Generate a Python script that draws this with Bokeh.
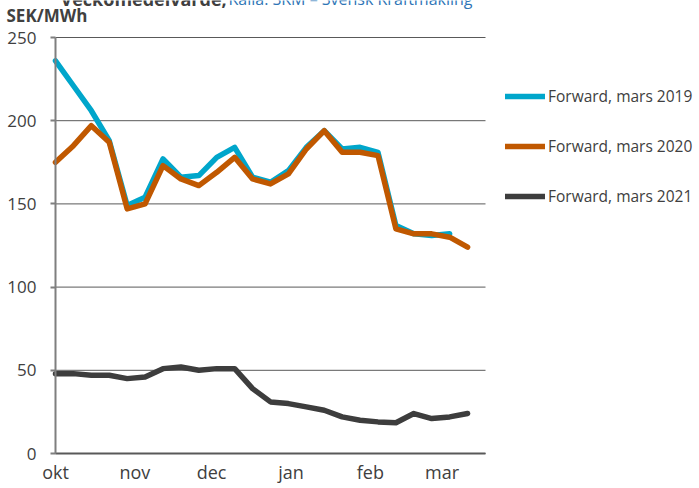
from bokeh.plotting import figure
from bokeh.models import Range1d, FixedTicker, Legend, LegendItem, Label
from bokeh.embed import file_html
from bokeh.resources import INLINE

# weekly observations, days after 1 October
week_day = [0, 7, 14, 21, 28, 35, 42, 49, 56, 63, 70, 77, 84, 91, 98, 105,
            112, 119, 126, 133, 140, 147, 154, 161]
month_day = [0, 31, 61, 92, 123, 151]
month_label = ["okt", "nov", "dec", "jan", "feb", "mar"]
y_ticks = [0, 50, 100, 150, 200, 250]

fwd_2019 = [236, 221, 206, 188, 149, 154, 177, 166, 167, 178, 184, 166, 163,
            170, 184, 194, 183, 184, 181, 137, 132, 131, 132]
fwd_2020 = [175, 185, 197, 187, 147, 150, 173, 165, 161, 169, 178, 165, 162,
            168, 183, 194, 181, 181, 179, 135, 132, 132, 130, 124]
fwd_2021 = [48, 48, 47, 47, 45, 46, 51, 52, 50, 51, 51, 39, 31, 30, 28, 26,
            22, 20, 19, 18.5, 24, 21, 22, 24]

series_names = ["Forward, mars 2019", "Forward, mars 2020", "Forward, mars 2021"]
series_colors = ["#00A6CB", "#C05800", "#3D3D3D"]

unit_text = "SEK/MWh"
title_black = "Veckomedelvärde,"
title_blue = "Källa: SKM – Svensk Kraftmäkling"

FONT = "Open Sans"
TXT = "#404040"

W, H = 699, 488
X0, X1 = 0, 168        # axis extent (days)
Y0, Y1 = 0, 250        # axis extent (SEK/MWh)
# the frame fills the canvas; axes are pinned at x=0 / y=0
px_day = 430 / (X1 - X0)
px_val = 416 / (Y1 - Y0)
x_range = Range1d(X0 - 55 / px_day, X0 + (W - 55) / px_day)
y_range = Range1d(Y0 - (H - 453) / px_val, Y0 + 453 / px_val)

p = figure(width=W, height=H, output_backend="svg", toolbar_location=None,
           x_range=x_range, y_range=y_range,
           min_border=0, min_border_left=0, min_border_right=0,
           min_border_top=0, min_border_bottom=0)
p.outline_line_color = None
p.xgrid.visible = False
p.ygrid.visible = False

# horizontal gridlines limited to the axis extent
p.segment(x0=[X0] * len(y_ticks), x1=[X1] * len(y_ticks), y0=y_ticks, y1=y_ticks,
          line_color="#595959", line_width=1)

p.yaxis.fixed_location = X0
p.yaxis.bounds = (Y0, Y1)
p.yaxis.ticker = FixedTicker(ticks=y_ticks)
p.yaxis.major_tick_out = 5
p.yaxis.major_tick_in = 0
p.yaxis.minor_tick_out = 0
p.yaxis.minor_tick_in = 0
p.yaxis.axis_line_color = "#7F7F7F"
p.yaxis.axis_line_width = 2
p.yaxis.major_tick_line_color = "#7F7F7F"
p.yaxis.major_tick_line_width = 2
p.yaxis.major_label_standoff = 14
p.yaxis.major_label_text_font = FONT
p.yaxis.major_label_text_font_size = "17px"
p.yaxis.major_label_text_color = TXT

p.xaxis.fixed_location = Y0
p.xaxis.bounds = (X0, X1)
p.xaxis.ticker = FixedTicker(ticks=month_day)
p.xaxis.major_label_overrides = {d: l for d, l in zip(month_day, month_label)}
p.xaxis.major_tick_out = 0
p.xaxis.major_tick_in = 0
p.xaxis.minor_tick_out = 0
p.xaxis.minor_tick_in = 0
p.xaxis.axis_line_color = "#595959"
p.xaxis.axis_line_width = 2
p.xaxis.major_label_standoff = 6
p.xaxis.major_label_text_font = FONT
p.xaxis.major_label_text_font_size = "18px"
p.xaxis.major_label_text_color = TXT

renderers = []
for vals, col in zip([fwd_2019, fwd_2020, fwd_2021], series_colors):
    r = p.line(week_day[:len(vals)], vals, line_color=col, line_width=5.5,
               line_join="round", line_cap="round")
    renderers.append(r)

legend = Legend(items=[LegendItem(label=n, renderers=[r]) for n, r in zip(series_names, renderers)],
                location=(505, 281), border_line_color=None, background_fill_alpha=0,
                padding=0, margin=0, spacing=28, glyph_width=40, glyph_height=20,
                label_height=20, label_standoff=3, label_text_font=FONT,
                label_text_font_size="15.5px", label_text_color=TXT)
p.add_layout(legend)

p.add_layout(Label(x=6, y=H - 15, x_units="screen", y_units="screen", text=unit_text,
                   text_font=FONT, text_font_style="bold", text_font_size="17px",
                   text_color=TXT, text_baseline="alphabetic"))
p.add_layout(Label(x=60, y=H + 2, x_units="screen", y_units="screen", text=title_black,
                   text_font=FONT, text_font_style="bold", text_font_size="18px",
                   text_color=TXT, text_baseline="alphabetic"))
p.add_layout(Label(x=228, y=H + 2, x_units="screen", y_units="screen", text=title_blue,
                   text_font=FONT, text_font_size="16px",
                   text_color="#2E75B6", text_baseline="alphabetic"))

open("out.html", "w").write(file_html(p, INLINE))
